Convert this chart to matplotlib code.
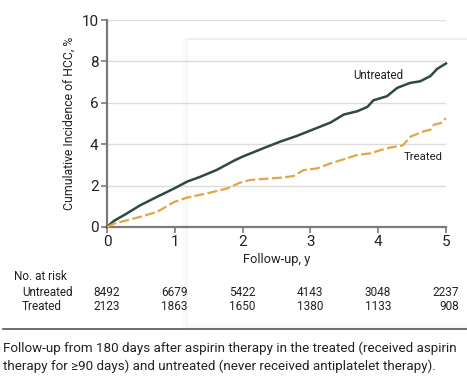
import matplotlib
matplotlib.use("Agg")
import matplotlib.pyplot as plt
from matplotlib.patches import Rectangle
from matplotlib.lines import Line2D
from matplotlib import font_manager

names = sorted({f.name for f in font_manager.fontManager.ttflist})
narrow = 'Liberation Sans Narrow' if 'Liberation Sans Narrow' in names else 'Roboto'
plt.rcParams['font.family'] = [narrow, 'DejaVu Sans']

# Data
untreated_x = [0, 0.1, 0.29, 0.49, 0.74, 0.99, 1.18, 1.38, 1.62, 1.87, 2.0, 2.31, 2.56, 2.80,
               3.0, 3.30, 3.49, 3.69, 3.84, 3.93, 4.13, 4.28, 4.47, 4.62, 4.77, 4.87, 5.0]
untreated_y = [0, 0.29, 0.65, 1.05, 1.46, 1.86, 2.19, 2.43, 2.76, 3.20, 3.40, 3.81, 4.13, 4.40,
               4.66, 5.05, 5.43, 5.59, 5.80, 6.12, 6.32, 6.72, 6.96, 7.04, 7.29, 7.64, 7.90]
treated_x = [0, 0.1, 0.29, 0.49, 0.74, 0.99, 1.18, 1.47, 1.77, 1.96, 2.11, 2.31, 2.56, 2.75,
             2.90, 3.10, 3.30, 3.49, 3.69, 3.89, 4.04, 4.18, 4.36, 4.48, 4.67, 4.77, 4.82, 4.92, 5.0]
treated_y = [0, 0.16, 0.32, 0.49, 0.73, 1.21, 1.42, 1.62, 1.86, 2.14, 2.27, 2.32, 2.38, 2.46,
             2.75, 2.83, 3.08, 3.27, 3.48, 3.56, 3.72, 3.84, 3.94, 4.37, 4.62, 4.70, 4.94, 5.02, 5.26]

x_ticks = [0, 1, 2, 3, 4, 5]
y_ticks = [0, 2, 4, 6, 8, 10]
risk_untreated = [8492, 6679, 5422, 4143, 3048, 2237]
risk_treated = [2123, 1863, 1650, 1380, 1133, 908]

W, H = 467, 376
fig = plt.figure(figsize=(W / 100, H / 100), dpi=100)
renderer = fig.canvas.get_renderer()

def fit(t, width_px, horizontal=True):
    for _ in range(4):
        bb = t.get_window_extent(renderer=renderer)
        cur = bb.width if horizontal else bb.height
        if cur > 0:
            t.set_fontsize(t.get_fontsize() * width_px / cur)
    return t

# very faint overlay panel shadow (screenshot artefact)
for i, a in enumerate([0.025, 0.018, 0.012, 0.006]):
    fig.patches.append(Rectangle(((187 - i * 1.5) / W, 1 - (325 + i * 1.5) / H),
                                 (300) / W, (286 + i * 1.5) / H,
                                 transform=fig.transFigure, facecolor='none',
                                 edgecolor=(0, 0, 0, a), lw=1.5, zorder=0))

ax = fig.add_axes([107 / W, 1 - 227 / H, 339 / W, 207 / H])
ax.patch.set_alpha(0)
ax.set_xlim(0, 5)
ax.set_ylim(0, 10)
for y in y_ticks[1:]:
    ax.axhline(y, color='#dcdcdc', lw=1, zorder=1)

ax.plot(untreated_x, untreated_y, color='#2d4a40', lw=1.8, clip_on=False, zorder=3)
ax.plot(treated_x, treated_y, color='#e3a548', lw=1.6, dashes=(4.5, 1.5),
        clip_on=False, zorder=3)

fit(ax.text(3.63, 7.34, 'Untreated', fontsize=9, ha='left', va='center', color='#222222'), 50)
fit(ax.text(4.37, 3.38, 'Treated', fontsize=9, ha='left', va='center', color='#222222'), 39)

for s in ['top', 'right']:
    ax.spines[s].set_visible(False)
for s in ['left', 'bottom']:
    ax.spines[s].set_color('#7a7a7a')
    ax.spines[s].set_linewidth(1.6)
ax.set_xticks(x_ticks)
ax.set_yticks(y_ticks)
ax.tick_params(axis='both', colors='#7a7a7a', labelcolor='#222222', labelsize=11,
               length=4, width=1.2, pad=2)
xl = ax.set_xlabel('Follow-up, y', fontsize=9.8, color='#222222', labelpad=3)
yl = ax.set_ylabel('Cumulative Incidence of HCC, %', fontsize=9.8, color='#222222', labelpad=4)
fit(xl, 68)
fit(yl, 175, horizontal=False)

def fx(px):
    return px / W
def fy(py):
    return 1 - py / H

fs = 9.8
t = fit(fig.text(fx(14), fy(276), 'No. at risk', fontsize=fs, va='center', color='#222222'), 54)
fs = t.get_fontsize()
fig.text(fx(22), fy(292), 'Untreated', fontsize=fs, va='center', color='#222222')
fig.text(fx(22), fy(307), 'Treated', fontsize=fs, va='center', color='#222222')
for i, tk in enumerate(x_ticks):
    xd = ax.transData.transform((tk, 0))[0]
    xf = fig.transFigure.inverted().transform((xd + 13, 0))[0]
    fig.text(xf, fy(292), str(risk_untreated[i]), fontsize=fs, ha='right', va='center', color='#222222')
    fig.text(xf, fy(307), str(risk_treated[i]), fontsize=fs, ha='right', va='center', color='#222222')

fig.add_artist(Line2D([fx(3), fx(467)], [fy(329), fy(329)], color='#555555', lw=1.2))
c1 = fit(fig.text(fx(3), fy(348), 'Follow-up from 180 days after aspirin therapy in the treated (received aspirin',
         fontsize=10, va='center', color='#222222'), 449)
fig.text(fx(3), fy(366), 'therapy for \u226590 days) and untreated (never received antiplatelet therapy).',
         fontsize=c1.get_fontsize(), va='center', color='#222222')

fig.savefig('out.png', dpi=100)
